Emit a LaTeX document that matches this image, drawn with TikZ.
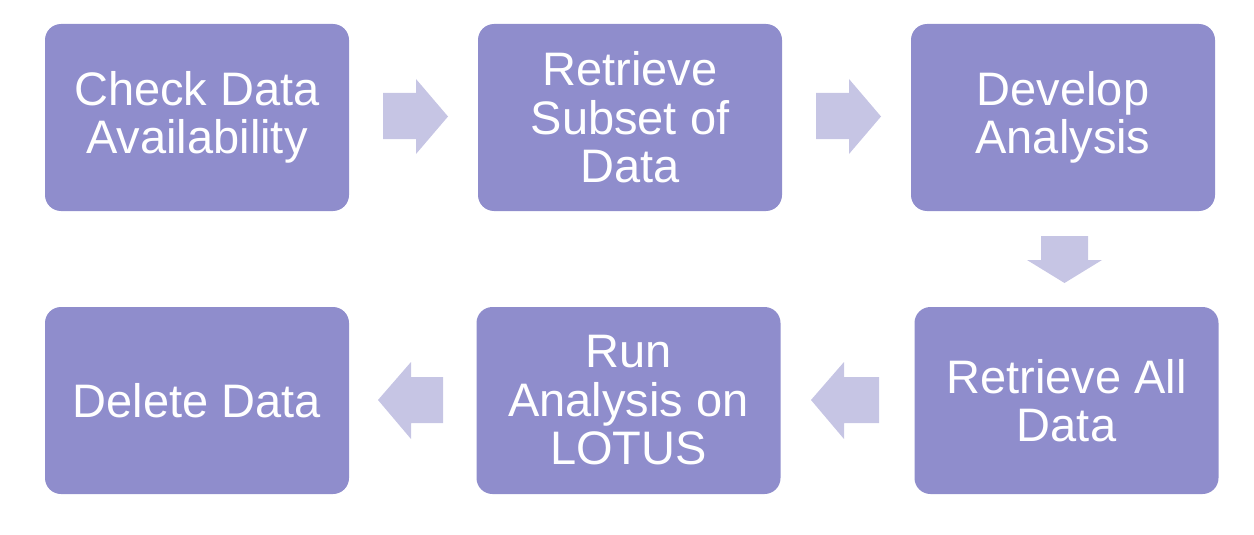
\documentclass[tikz,border=0pt]{standalone}
\usepackage{fontspec}
\setmainfont{Liberation Sans}
\definecolor{boxfill}{RGB}{143,141,204}
\definecolor{arrowfill}{RGB}{198,197,228}
\begin{document}
\begin{tikzpicture}[x=1pt,y=-1pt,
  stepbox/.style={fill=boxfill, draw=none, rounded corners=16pt, minimum width=304pt, minimum height=187pt,
    text=white, align=center, inner sep=0pt, font=\fontsize{47}{48.5}\selectfont},
  blockarrow/.style={fill=arrowfill, draw=none}]
\useasboundingbox (0,0) rectangle (1254,535);
\node[stepbox] (b1) at (197,117.5) {Check Data\\Availability};
\node[stepbox] (b2) at (630,117.5) {Retrieve\\Subset of\\Data};
\node[stepbox] (b3) at (1063,117.5) {Develop\\Analysis};
\node[stepbox] (b4) at (197,400.5) {Delete Data};
\node[stepbox] (b5) at (628.5,400.5) {Run\\Analysis on\\LOTUS};
\node[stepbox] (b6) at (1066.5,400.5) {Retrieve All\\Data};
% right arrows
\fill[blockarrow] (383,93) -- (416,93) -- (416,79) -- (448,116.5) -- (416,154) -- (416,139) -- (383,139) -- cycle;
\fill[blockarrow] (816,93) -- (849,93) -- (849,79) -- (881,116.5) -- (849,154) -- (849,139) -- (816,139) -- cycle;
% down arrow
\fill[blockarrow] (1041,236) -- (1088,236) -- (1088,260) -- (1102,260) -- (1064.5,283) -- (1027,260) -- (1041,260) -- cycle;
% left arrows
\fill[blockarrow] (443,377) -- (411,377) -- (411,362) -- (378,400) -- (411,439) -- (411,423) -- (443,423) -- cycle;
\fill[blockarrow] (879,377) -- (844,377) -- (844,362) -- (811,400) -- (844,439) -- (844,423) -- (879,423) -- cycle;
\end{tikzpicture}
\end{document}
